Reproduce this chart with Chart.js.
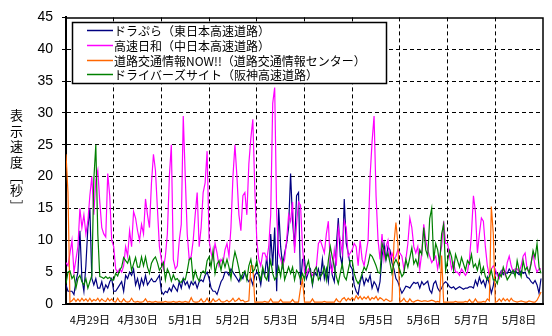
<!DOCTYPE html>
<html lang="ja">
<head>
<meta charset="utf-8">
<title>表示速度</title>
<script src="https://cdn.jsdelivr.net/npm/chart.js@4.4.1/dist/chart.umd.min.js"></script>
<style>
  html, body { margin: 0; padding: 0; background: #fff; }
  #wrap { position: relative; width: 552px; height: 336px; }
  #ytitle {
    position: absolute; left: 7px; top: 109px;
    writing-mode: vertical-rl; text-orientation: upright;
    font: 13px "Noto Sans CJK JP", sans-serif; letter-spacing: 2.5px; color: #000;
  }
  #ytitle .br { letter-spacing: 0; }
</style>
</head>
<body>
<div id="wrap">
  <canvas id="speedChart" width="552" height="336"></canvas>
  <div id="ytitle">表示速度<span class="br">［</span>秒<span class="br">］</span></div>
</div>
<script>
// day labels, one per 24 hourly samples
const days = ['4月29日', '4月30日', '5月1日', '5月2日', '5月3日', '5月4日', '5月5日', '5月6日', '5月7日', '5月8日'];

const seriesNames = [
  'ドラぷら（東日本高速道路）',
  '高速日和（中日本高速道路）',
  '道路交通情報NOW!!（道路交通情報センター）',
  'ドライバーズサイト（阪神高速道路）'
];

// hourly display time [s]
const dorapura = [
  3, 2, 2, 2, 1.5, 3.5, 5, 11.5, 4, 2, 6, 12, 15, 4, 3, 4, 2.5, 2.5, 3.5, 2, 3, 2.5, 3.5, 4,
  2, 2, 2.5, 3, 3.5, 2, 4.5, 4, 5, 4.5, 5.5, 3, 4, 2.5, 4, 3, 4.5, 3, 3.5, 4, 3.5, 3.5, 4, 4.5,
  2, 1.5, 2, 1.8, 2.5, 2, 3, 2.5, 2, 3.5, 2.5, 4, 3, 3.5, 2.5, 3.5, 3, 3.5, 2.5, 3.5, 3.8, 3.5, 4.5, 5,
  4, 2.5, 2, 2, 1.5, 2.5, 3.5, 4, 5, 5, 4.5, 5.5, 5, 4.5, 4, 3.5, 4.5, 4, 5, 4, 3.5, 4, 3, 4.5,
  5, 4.5, 3, 5.5, 4.5, 7.5, 3.5, 11, 6, 12, 2, 15, 9, 6, 8, 9.5, 12, 20.5, 13, 9, 17, 17.5, 3, 7,
  7, 4, 5, 5.5, 3, 5, 4.5, 5.5, 4, 7, 4, 5.5, 3.5, 7, 4.5, 3.5, 9, 13.5, 7.5, 6, 16.5, 9.5, 8, 6,
  5.5, 3, 2, 1.5, 3.5, 4.5, 3, 4, 3.5, 4.5, 2.5, 3.5, 3, 2, 3.5, 7.5, 9.5, 7, 9, 8.5, 6.5, 5.5, 4, 3.5,
  2.5, 1.7, 2.2, 2.8, 2.7, 2.5, 3, 3.4, 3.2, 3.4, 2.5, 3.5, 3, 3.3, 3.6, 2.2, 1.7, 3.2, 3.6, 2.5, 2, 2.5, 3.2, 3.5,
  3.2, 2.7, 2.5, 2.7, 2.3, 2.5, 2.7, 2.5, 2.3, 2.5, 2.5, 2.7, 2.7, 2.5, 3.7, 2.9, 4.2, 3.2, 3.7, 2.7, 4.2, 3.2, 1.7, 2.9,
  5, 4.8, 4.3, 5.2, 4.6, 5, 4.8, 5.5, 5, 4.8, 5.2, 4.9, 4.6, 5.2, 4.8, 5, 4.2, 4, 3.5, 3.2, 3.7, 3, 1.7, 4
];

const kousokuBiyori = [
  6.5, 6, 8, 10, 5, 7, 9, 15, 12, 14, 11, 13, 17, 20, 14, 19.5, 21, 16, 12, 11, 10.5, 20.5, 17, 10,
  9, 5.5, 5, 5.5, 5, 6, 9, 7.5, 11.5, 9, 14.5, 13.5, 11.5, 10, 12.5, 11, 16.5, 14, 12, 19, 23.5, 21, 15, 9,
  7, 5.5, 7.5, 11, 20, 25, 7, 5.5, 6, 10, 12.5, 29.5, 20, 11, 7, 7.5, 10, 14, 17.5, 9, 12, 17.5, 19, 24,
  10, 8, 7, 9.5, 8, 6, 7, 6.5, 8.5, 9.5, 7.5, 12, 20, 25, 20, 14, 11.5, 17, 17.5, 14, 22, 26, 29, 18,
  10, 7, 6, 8, 8, 7, 9, 14, 31.5, 34, 14, 8, 7, 6, 7, 10, 14, 13, 16, 8, 12.5, 16, 15.5, 9,
  5, 4.5, 5.5, 5, 4.5, 5, 6, 9.5, 10, 9, 8, 11, 13, 6, 5, 8.5, 6, 12, 10, 8, 13, 12, 7.5, 8,
  8.5, 9.5, 9, 6, 10, 7, 6, 8, 10, 20, 25.5, 29.5, 17, 10, 7, 11, 7, 9, 10, 7, 8, 7, 7.5, 8.5,
  8, 7.5, 5.5, 7, 9.5, 13.5, 12, 9, 8, 9, 5.5, 8, 12.5, 10, 8.5, 7.5, 6.5, 7, 7.5, 5.5, 7.5, 9, 13, 9.5,
  9.5, 7.5, 5.5, 6.5, 5, 5, 4.5, 5.5, 5, 4.5, 5, 7, 11, 17, 14.5, 8, 11, 13.5, 13, 9, 6, 4.5, 5.5, 6,
  5.5, 4.5, 4, 5, 5.5, 4.5, 6.5, 7.5, 6, 5, 5.5, 5.5, 5, 6, 7.5, 8, 5.5, 5, 6.5, 8, 6, 5, 5.5, 5.5
];

const rotsuNow = [
  23.5, 17.5, 0.3, 0.5, 0.9, 0.4, 0.8, 0.4, 0.9, 0.5, 0.8, 0.4, 0.9, 0.4, 0.7, 0.5, 0.9, 0.4, 0.8, 0.5, 0.4, 0.9, 0.5, 0.8,
  0.4, 0.3, 0.9, 0.4, 0.3, 0.8, 0.4, 0.3, 0.4, 0.9, 0.4, 0.3, 0.4, 0.3, 0.3, 0.4, 0.8, 0.3, 0.4, 0.3, 0.3, 0.4, 0.3, 0.3,
  0.3, 0.3, 0.4, 0.3, 0.3, 0.3, 0.4, 0.3, 0.3, 0.4, 0.3, 0.3, 0.4, 0.3, 0.3, 1.0, 0.4, 0.3, 0.3, 0.4, 0.8, 0.3, 0.4, 0.9,
  0.3, 0.3, 0.8, 0.4, 0.5, 0.8, 0.4, 0.3, 0.4, 0.6, 0.3, 0.5, 0.9, 0.4, 0.6, 0.9, 0.5, 0.6, 0.3, 0.4, 0.5, 6.0, 6.0, 0.3,
  0.3, 0.3, 0.3, 0.3, 0.4, 0.3, 0.3, 0.8, 0.3, 0.3, 0.3, 0.3, 0.7, 0.3, 0.3, 0.3, 0.3, 0.3, 0.7, 0.3, 0.3, 0.3, 2.5, 3.8,
  0.3, 0.3, 0.3, 0.3, 0.8, 0.3, 0.3, 0.3, 0.3, 0.3, 0.4, 0.3, 0.3, 0.3, 0.3, 0.3, 0.8, 0.4, 0.3, 0.8, 1.0, 0.5, 0.9, 0.6,
  1.0, 0.6, 1.3, 0.8, 1.2, 0.7, 1.1, 0.8, 1.2, 0.6, 1.0, 0.8, 1.2, 0.6, 1.0, 0.8, 0.5, 0.8, 0.6, 0.4, 0.5, 9.5, 12.8, 9.5,
  0.3, 0.5, 0.9, 0.4, 0.3, 0.8, 0.4, 0.3, 0.5, 0.6, 0.5, 0.4, 0.5, 0.5, 0.4, 0.5, 0.6, 0.5, 0.3, 0.4, 0.3, 7.6, 0.3, 0.3,
  0.3, 0.3, 0.3, 0.3, 0.4, 0.3, 0.3, 0.3, 0.3, 0.4, 0.3, 0.7, 0.3, 0.3, 0.8, 0.3, 0.3, 0.3, 0.4, 0.3, 0.8, 0.5, 15.3, 11,
  0.3, 0.4, 0.8, 0.4, 0.9, 0.5, 0.8, 0.4, 0.9, 0.5, 0.4, 0.3, 0.4, 0.5, 0.4, 0.3, 0.3, 0.5, 0.4, 0.3, 0.3, 0.6, 1.2, 1.9
];

const driversSite = [
  3.2, 5, 5.2, 4, 4.5, 2.5, 4, 4.5, 3.5, 3, 4, 2.5, 3.5, 4.5, 19.5, 25, 11, 4.3, 4.2, 4, 4.3, 4, 4.2, 3.8,
  3.8, 4.8, 4.4, 5.3, 5.8, 7.3, 6.8, 6.4, 7.4, 5.3, 6.3, 7.3, 5.8, 5.8, 7.4, 6, 7.4, 5.8, 4.8, 6.4, 7, 7.4, 6.5, 5.3,
  5.8, 6.5, 3.8, 5.5, 4.8, 3.6, 4.6, 3.8, 4, 3.5, 3.4, 4, 3.8, 5.2, 7, 7.2, 3.8, 5.2, 4.2, 3.6, 4.8, 5.2, 4.8, 6.8,
  7.4, 5.8, 8.4, 4.8, 6.3, 6.8, 5.3, 7, 5.8, 7, 5.8, 4, 6.5, 8.2, 7, 5.5, 3.8, 4.8, 5.2, 3.8, 6, 7, 5, 5.5,
  6.8, 4.8, 3.8, 5.8, 4.3, 3.8, 5.3, 6.8, 4.8, 3.8, 4.3, 5.8, 4.3, 6.8, 3.8, 4.8, 5.8, 4.8, 5.8, 3.8, 5.3, 4.8, 3.8, 4.8,
  3.8, 5.8, 6.8, 4.8, 3.2, 5.3, 5.8, 3.8, 4.3, 4.8, 5.8, 3.8, 6.8, 9, 7.3, 5.8, 4.3, 3.2, 4.8, 6.3, 4.3, 3.8, 5.3, 6.8,
  6.8, 4.8, 3.8, 3.2, 3.8, 4.8, 5.8, 5.3, 6.3, 7.8, 7.5, 6.8, 6, 5, 4.8, 9.5, 8.5, 7, 8, 6.5, 4.8, 6.3, 7, 6.3,
  5.3, 4.3, 4.8, 7, 5.8, 7.3, 8.8, 6.3, 7, 6, 8.5, 7.8, 12, 8.5, 7.5, 13.4, 15, 6.8, 9.5, 8.5, 6.3, 11, 12.5, 5.3,
  6.8, 8.4, 7.4, 5.3, 7.8, 6.8, 5.8, 7.3, 6.3, 5.3, 6.8, 6.3, 7.8, 5.8, 6.3, 5.3, 6.8, 4.8, 5.8, 4.3, 3.8, 4.3, 5.3, 3.8,
  3.8, 3.2, 4.8, 4.3, 5.8, 4.8, 3.8, 4.3, 4.8, 5.3, 4.3, 6.8, 5.3, 4.3, 6.8, 5.3, 5.8, 4.8, 6.3, 8.4, 7.3, 9.5, 5.8, 4.8
];

const yTicks = [0, 5, 10, 15, 20, 25, 30, 35, 40, 45];

const toPoints = arr => arr.map((v, i) => ({ x: i, y: v }));
const hoursTotal = days.length * 24;

// legend drawn as a framed box inside the plot
const legendBox = {
  id: 'legendBox',
  afterDatasetsDraw(chart) {
    const ctx = chart.ctx;
    ctx.save();
    ctx.fillStyle = '#fff';
    ctx.fillRect(72, 22, 315, 62);
    ctx.strokeStyle = '#000';
    ctx.lineWidth = 1.5;
    ctx.strokeRect(72.5, 22.5, 314, 61);
    ctx.font = '12px "Noto Sans CJK JP", sans-serif';
    ctx.textBaseline = 'middle';
    chart.data.datasets.forEach((ds, i) => {
      const y = Math.round(30 + i * 14.8) + 0.5;
      ctx.strokeStyle = ds.borderColor;
      ctx.lineWidth = 1.5;
      ctx.beginPath();
      ctx.moveTo(87, y);
      ctx.lineTo(113, y);
      ctx.stroke();
      ctx.fillStyle = '#000';
      ctx.fillText(ds.label, 114, y + 0.5);
    });
    ctx.restore();
  }
};

// top and right edges of the plot frame
const frame = {
  id: 'frame',
  afterDraw(chart) {
    const { ctx, chartArea: a } = chart;
    ctx.save();
    ctx.strokeStyle = '#000';
    ctx.lineWidth = 1.5;
    ctx.beginPath();
    ctx.moveTo(a.left, a.top + 0.5);
    ctx.lineTo(a.right, a.top + 0.5);
    ctx.lineTo(a.right, a.bottom);
    ctx.stroke();
    ctx.restore();
  }
};

Chart.defaults.color = '#000';
Chart.defaults.font.family = '"Liberation Sans", Arial, sans-serif';

const colors = ['#000080', '#ff00ff', '#ff6600', '#008000'];
const series = [dorapura, kousokuBiyori, rotsuNow, driversSite];
const drawOrder = [4, 3, 2, 1];

new Chart(document.getElementById('speedChart'), {
  type: 'line',
  data: {
    datasets: series.map((s, i) => ({
      label: seriesNames[i],
      data: toPoints(s),
      borderColor: colors[i],
      borderWidth: 1.2,
      pointRadius: 0,
      tension: 0,
      fill: false,
      order: drawOrder[i]
    }))
  },
  options: {
    responsive: false,
    animation: false,
    layout: { padding: { top: 16, right: 5, left: 0, bottom: 0 } },
    plugins: {
      legend: { display: false },
      tooltip: { enabled: false }
    },
    scales: {
      x: {
        type: 'linear',
        min: 0,
        max: hoursTotal,
        afterFit(scale) { scale.height = 32; },
        ticks: {
          stepSize: 12,
          autoSkip: false,
          maxRotation: 0,
          padding: 9,
          font: { family: '"Noto Sans CJK JP", sans-serif', size: 11 },
          callback: v => (v % 24 === 12 ? days[(v - 12) / 24] : '')
        },
        grid: {
          drawTicks: false,
          lineWidth: 1,
          color: c => (c.tick && c.tick.value % 24 === 0 && c.tick.value > 0 && c.tick.value < hoursTotal) ? '#000' : 'rgba(0,0,0,0)'
        },
        border: { display: true, color: '#000', width: 2, dash: [4, 3] }
      },
      y: {
        min: yTicks[0],
        max: yTicks[yTicks.length - 1],
        afterFit(scale) { scale.width = 66; },
        afterBuildTicks(scale) { scale.ticks = yTicks.map(v => ({ value: v })); },
        ticks: {
          padding: 9,
          font: { size: 14 }
        },
        grid: {
          drawTicks: true,
          tickLength: 4,
          tickColor: '#000',
          lineWidth: 1,
          color: c => (c.tick && c.tick.value > yTicks[0] && c.tick.value < yTicks[yTicks.length - 1]) ? '#000' : 'rgba(0,0,0,0)'
        },
        border: { display: true, color: '#000', width: 2, dash: [4, 3] }
      }
    }
  },
  plugins: [legendBox, frame]
});
</script>
</body>
</html>
